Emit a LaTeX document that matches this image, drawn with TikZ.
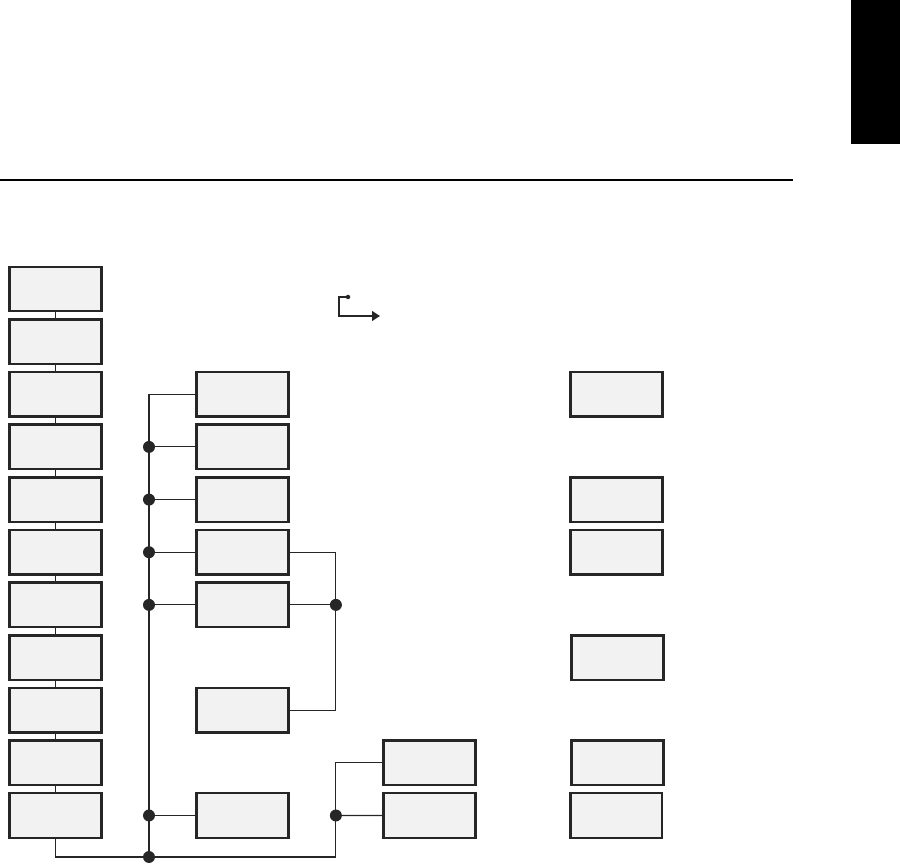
\documentclass[tikz,border=0pt]{standalone}
\usepackage{xcolor}
\usetikzlibrary{arrows.meta, positioning, calc}
\definecolor{boxfill}{HTML}{F2F2F2}
\definecolor{inkgray}{HTML}{262626}

\begin{document}
\begin{tikzpicture}[
    x=0.02cm, y=-0.02cm,
    node distance=0.114cm and 1.85cm,
    box/.style={draw=inkgray, fill=boxfill, line width=1.4pt,
                minimum width=1.84cm, minimum height=0.89cm, inner sep=0pt},
    wire/.style={draw=inkgray, line width=0.6pt},
    dot/.style={fill=inkgray},
    arrow/.style={-{Triangle[length=4.5pt, width=5.5pt]}, draw=inkgray,
                  line width=1.1pt}
  ]
    \useasboundingbox (0,0) rectangle (900,864);
    \fill[black] (851,0) rectangle (900,144);
    \draw[black, line width=1.2pt] (0,180) -- (793,180);

    \node[box] (l1) at (55.5,289) {};
    \node[box, below=of l1] (l2) {};
    \node[box, below=of l2] (l3) {};
    \node[box, below=of l3] (l4) {};
    \node[box, below=of l4] (l5) {};
    \node[box, below=of l5] (l6) {};
    \node[box, below=of l6] (l7) {};
    \node[box, below=of l7] (l8) {};
    \node[box, below=of l8] (l9) {};
    \node[box, below=of l9] (l10) {};
    \node[box, below=of l10] (l11) {};

    \node[box, right=of l3] (m3) {};
    \node[box, right=of l4] (m4) {};
    \node[box, right=of l5] (m5) {};
    \node[box, right=of l6] (m6) {};
    \node[box, right=of l7] (m7) {};
    \node[box, right=of l9] (m9) {};
    \node[box, right=of l11] (m11) {};

    \node[box, right=of m11] (n11) {};
    \node[box, above=of n11] (n10) {};

    \node[box, right=5.59cm of m3] (r3) {};
    \node[box, right=5.59cm of m5] (r5) {};
    \node[box, right=5.59cm of m6] (r6) {};
    \node[box, right=9.35cm of l8] (r8) {};
    \node[box, right=9.35cm of l10] (r10) {};
    \node[box, right=of n11] (r11) {};

    \foreach \a/\b in {l1/l2, l2/l3, l3/l4, l4/l5, l5/l6, l6/l7, l7/l8,
                       l8/l9, l9/l10, l10/l11}
      \draw[wire] (\a) -- (\b);

    \coordinate (jb) at (149,857);
    \coordinate (jr) at ($(m11.east)!0.5!(n11.west)$);
    \coordinate (jm) at (jr |- m7);

    \draw[wire] (m3.west) -| (jb);
    \foreach \r in {4,5,6,7,11} {
      \coordinate (j\r) at (jb |- m\r);
      \draw[wire] (j\r) -- (m\r.west);
      \fill[dot] (j\r) circle (0.12cm);
    }

    \draw[wire] (l11.south) |- (jb) -| (jr) |- (n10.west);
    \draw[wire] (jr) -- (n11.west);
    \draw[wire] (m6.east) -| (jm) |- (m9.east);
    \draw[wire] (m7.east) -- (jm);
    \fill[dot] (jb) circle (0.12cm);
    \fill[dot] (jr) circle (0.12cm);
    \fill[dot] (jm) circle (0.12cm);

    % legend
    \coordinate (legdot) at (348,297);
    \coordinate (legtip) at (380,316);
    \draw[arrow] (legdot) -- ++(-9,0) |- (legtip);
    \fill[dot] (legdot) circle (0.045cm);
  \end{tikzpicture}
\end{document}
